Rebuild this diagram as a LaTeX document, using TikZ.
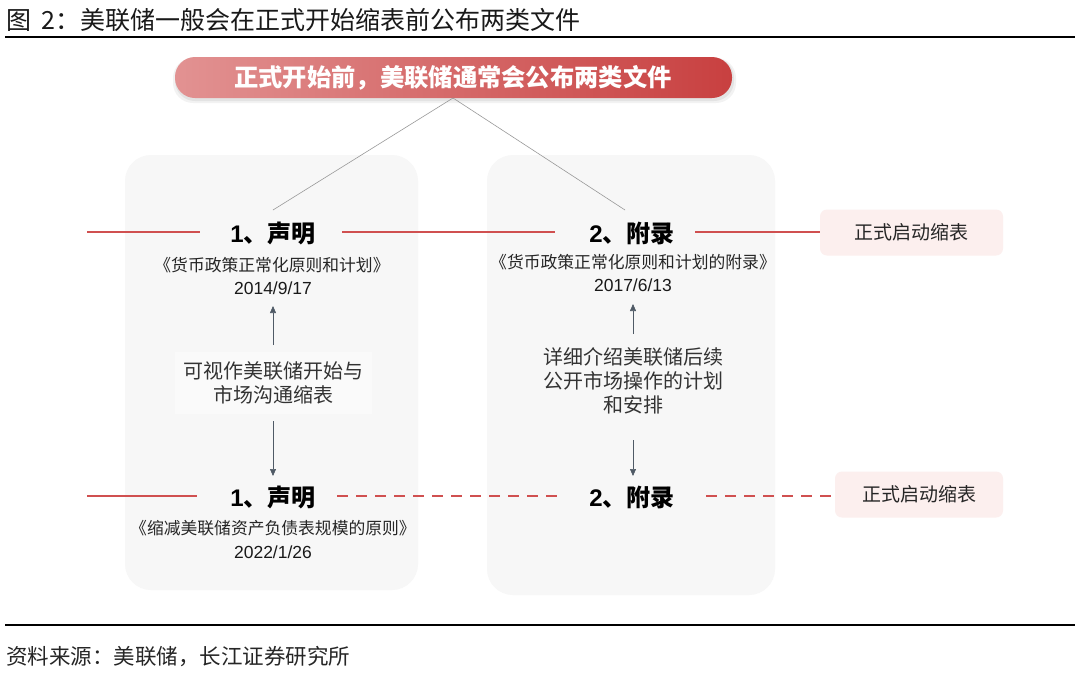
\documentclass[tikz,border=0pt]{standalone}
\usepackage{fontspec}
\setmainfont{Liberation Sans}
\newfontfamily\cjk{Noto Sans CJK SC}
\newfontfamily\lib{Liberation Sans}
\usetikzlibrary{arrows.meta}
\definecolor{redline}{HTML}{D05050}
\definecolor{panel}{HTML}{F7F7F7}
\definecolor{midfill}{HTML}{FAFAFA}
\definecolor{pinkbox}{HTML}{FCEFEE}
\definecolor{arrowc}{HTML}{4F5A66}
\newcommand{\fs}[1]{\fontsize{#1}{#1}\selectfont}
\tikzset{
  panelbox/.style={fill=panel, rounded corners=26pt, draw=none},
  headlbl/.style={font=\cjk\bfseries\fs{24}, text=black, inner sep=0pt},
  sublbl/.style={font=\cjk\fs{16.8}, text=black!85, inner sep=1pt},
  datelbl/.style={font=\lib\fs{17.5}, text=black!90, inner sep=1pt},
  midlbl/.style={font=\cjk\fs{20}, text=black!80, align=center, inner sep=4pt},
  startbox/.style={fill=pinkbox, rounded corners=7pt, font=\cjk\fs{19}, text=black!85, minimum width=#1, minimum height=46pt},
  redsolid/.style={draw=redline, line width=2.2pt},
  reddash/.style={draw=redline, line width=2.2pt, dash pattern=on 11pt off 8pt},
  upar/.style={draw=arrowc, line width=0.6pt, -{Triangle[length=7pt,width=6pt]}},
  conn/.style={draw=gray!80, line width=0.6pt}
}
\begin{document}
\begin{tikzpicture}[x=1pt,y=-1pt]
\useasboundingbox (0,0) rectangle (1080,675);
\fill[white] (0,0) rectangle (1080,675);
% caption
\node[anchor=west, font=\cjk\fs{25}, inner sep=0pt, text=black!90] (cap) at (6,20) {图\hspace{10pt}2：美联储一般会在正式开始缩表前公布两类文件};
\draw[black, line width=1.5pt] (5,37) -- (1075,37);
% panels
\fill[panelbox] (125,155) rectangle (418,590);
\fill[panelbox] (487,155) rectangle (775,595);
% header pill with shadow
\fill[black, opacity=0.05, rounded corners=20pt] (173,58) rectangle (736,103);
\fill[black, opacity=0.06, rounded corners=20pt] (175,58) rectangle (734,101);
\shade[left color={rgb,255:red,226;green,146;blue,146}, right color={rgb,255:red,200;green,64;blue,64}, rounded corners=20pt] (175,57) rectangle (732,98);
\node[font=\cjk\bfseries\fs{24.3}, text=white, inner sep=0pt] (head) at (453,78) {正式开始前，美联储通常会公布两类文件};
\coordinate (hb) at (453,98);
% row 1
\node[headlbl] (s1) at (273,233) {\lib 1\cjk 、声明};
\node[headlbl] (a1) at (632,233) {\lib 2\cjk 、附录};
\node[sublbl] (s1t) at (272,265) {《货币政策正常化原则和计划》};
\node[sublbl] (a1t) at (633,262) {《货币政策正常化原则和计划的附录》};
\node[datelbl] (s1d) at (273,288) {2014/9/17};
\node[datelbl] (a1d) at (633,285) {2017/6/13};
\node[startbox=183pt] (st1) at (911.5,232.5) {正式启动缩表};
\coordinate (l1) at (87,232);
\draw[conn] (hb) -- (273,210);
\draw[conn] (hb) -- (625,210);
\draw[redsolid] (l1) -- (200,232);
\draw[redsolid] (342,232) -- (555,232);
\draw[redsolid] (695,232) -- (695,232 -| st1.west);
% middle
\node[midlbl, fill=midfill, minimum width=197pt, minimum height=62pt] (m1) at (273,383) {可视作美联储开始与\\[4pt]市场沟通缩表};
\node[midlbl, fill=panel] (m2) at (633,381) {详细介绍美联储后续\\[4pt]公开市场操作的计划\\[4pt]和安排};
% row 2
\node[headlbl] (s2) at (273,497) {\lib 1\cjk 、声明};
\node[headlbl] (a2) at (632,497) {\lib 2\cjk 、附录};
\node[sublbl] (s2t) at (273,528) {《缩减美联储资产负债表规模的原则》};
\node[datelbl] (s2d) at (273,552) {2022/1/26};
\node[startbox=168pt] (st2) at (919,494.5) {正式启动缩表};
\coordinate (l2) at (87,496);
\draw[redsolid] (l2) -- (197,496);
\draw[reddash] (337,496) -- (560,496);
\draw[reddash] (706,496) -- (706,496 -| st2.west);
% arrows
\draw[upar] (273,345) -- (273,306);
\draw[upar] (273,421) -- (273,476);
\draw[upar] (633,334) -- (633,304);
\draw[upar] (633,440) -- (633,476);
% footer
\draw[black, line width=1.5pt] (5,625) -- (1075,625);
\node[anchor=west, font=\cjk\fs{21.5}, inner sep=0pt, text=black!85] (src) at (6,657) {资料来源：美联储，长江证券研究所};
\end{tikzpicture}
\end{document}
